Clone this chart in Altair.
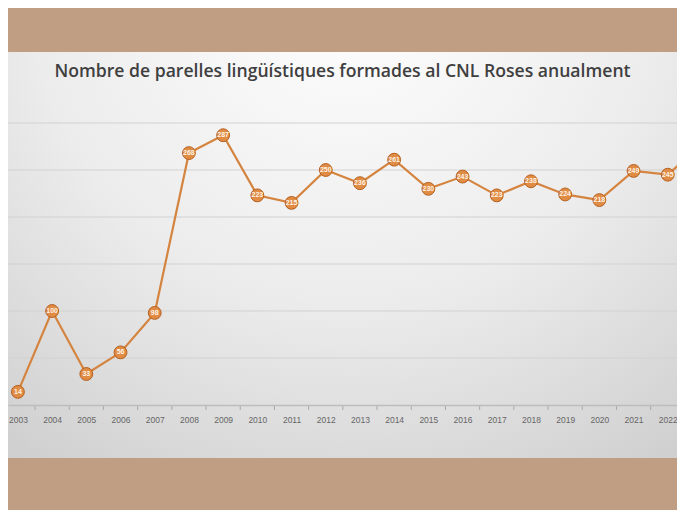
import altair as alt
import pandas as pd

years = list(range(2003, 2024))
values = [14, 100, 33, 56, 98, 268, 287, 223, 215, 250, 236, 261, 230, 243,
          223, 238, 224, 218, 249, 245, 277]
grid_values = [50, 100, 150, 200, 250, 300]
title_text = "Nombre de parelles lingüístiques formades al CNL Roses anualment"

df = pd.DataFrame({"year": years, "value": values})
df_visible = df[df["year"] <= 2022]
ticks_df = pd.DataFrame({"pos": [y - 0.5 for y in years[:-1]] + [years[-2] + 0.5]})
grid_df = pd.DataFrame({"g": grid_values})
bg_df = pd.DataFrame({"t": [title_text]})

W, H = 669, 282
xscale = alt.Scale(domain=[2002.71, 2022.27], nice=False, zero=False)
yscale = alt.Scale(domain=[0, 300], nice=False)

xaxis = alt.Axis(values=years[:-1], format="d", title=None, ticks=False,
                 grid=False, domainColor="#bdbdbd", domainWidth=1.5,
                 labelFontSize=8.5, labelColor="#666666", labelPadding=10,
                 labelFont="Liberation Sans", labelFlush=False, zindex=1)

bg = alt.Chart(bg_df).mark_rect(
    clip=False,
    fill={
        "gradient": "radial",
        "x1": 0.5, "y1": 0.1, "x2": 0.5, "y2": 0.1, "r1": 0, "r2": 0.85,
        "stops": [
            {"offset": 0, "color": "#ffffff"},
            {"offset": 0.55, "color": "#ececec"},
            {"offset": 1, "color": "#cfcfcf"},
        ],
    },
).encode(
    x=alt.value(0), x2=alt.value(W + 10),
    y=alt.value(-71), y2=alt.value(335),
)

title = alt.Chart(bg_df).mark_text(
    fontSize=17.6, font="Open Sans", fontWeight=600, color="#3f3f3f",
    align="center", baseline="middle", clip=False,
).encode(x=alt.value(W / 2), y=alt.value(-51), text="t:N")

grid = alt.Chart(grid_df).mark_rule(color="#d2d2d2", strokeWidth=1.2).encode(
    y=alt.Y("g:Q", scale=yscale, axis=None), x=alt.value(0), x2=alt.value(W))

line = alt.Chart(df).mark_line(color="#d4843f", strokeWidth=2.2, clip=True).encode(
    x=alt.X("year:Q", scale=xscale, axis=xaxis),
    y=alt.Y("value:Q", scale=yscale, axis=None),
)

points = alt.Chart(df_visible).mark_point(
    filled=True, shape="circle", size=165, fill="#e08c44",
    stroke="#b5601f", strokeWidth=1, opacity=1, clip=True).encode(
    x=alt.X("year:Q", scale=xscale, axis=xaxis),
    y=alt.Y("value:Q", scale=yscale, axis=None))

labels = alt.Chart(df_visible).mark_text(
    fontSize=7, color="#fff3e6", font="Liberation Sans",
    fontWeight="bold", clip=True).encode(
    x=alt.X("year:Q", scale=xscale, axis=xaxis),
    y=alt.Y("value:Q", scale=yscale, axis=None),
    text=alt.Text("value:Q"))

tickmarks = alt.Chart(ticks_df).mark_rule(color="#a8a8a8", strokeWidth=1).encode(
    x=alt.X("pos:Q", scale=xscale, axis=xaxis), y=alt.value(H), y2=alt.value(H + 5))

chart = alt.layer(bg, title, grid, tickmarks, line, points, labels).properties(
    width=W, height=H,
    autosize="none",
    padding={"left": 0, "top": 115, "right": 0, "bottom": 105},
    background="#c09e84",
).configure_view(stroke=None)

chart.save("out.html", embed_options={"renderer": "svg", "actions": False})
